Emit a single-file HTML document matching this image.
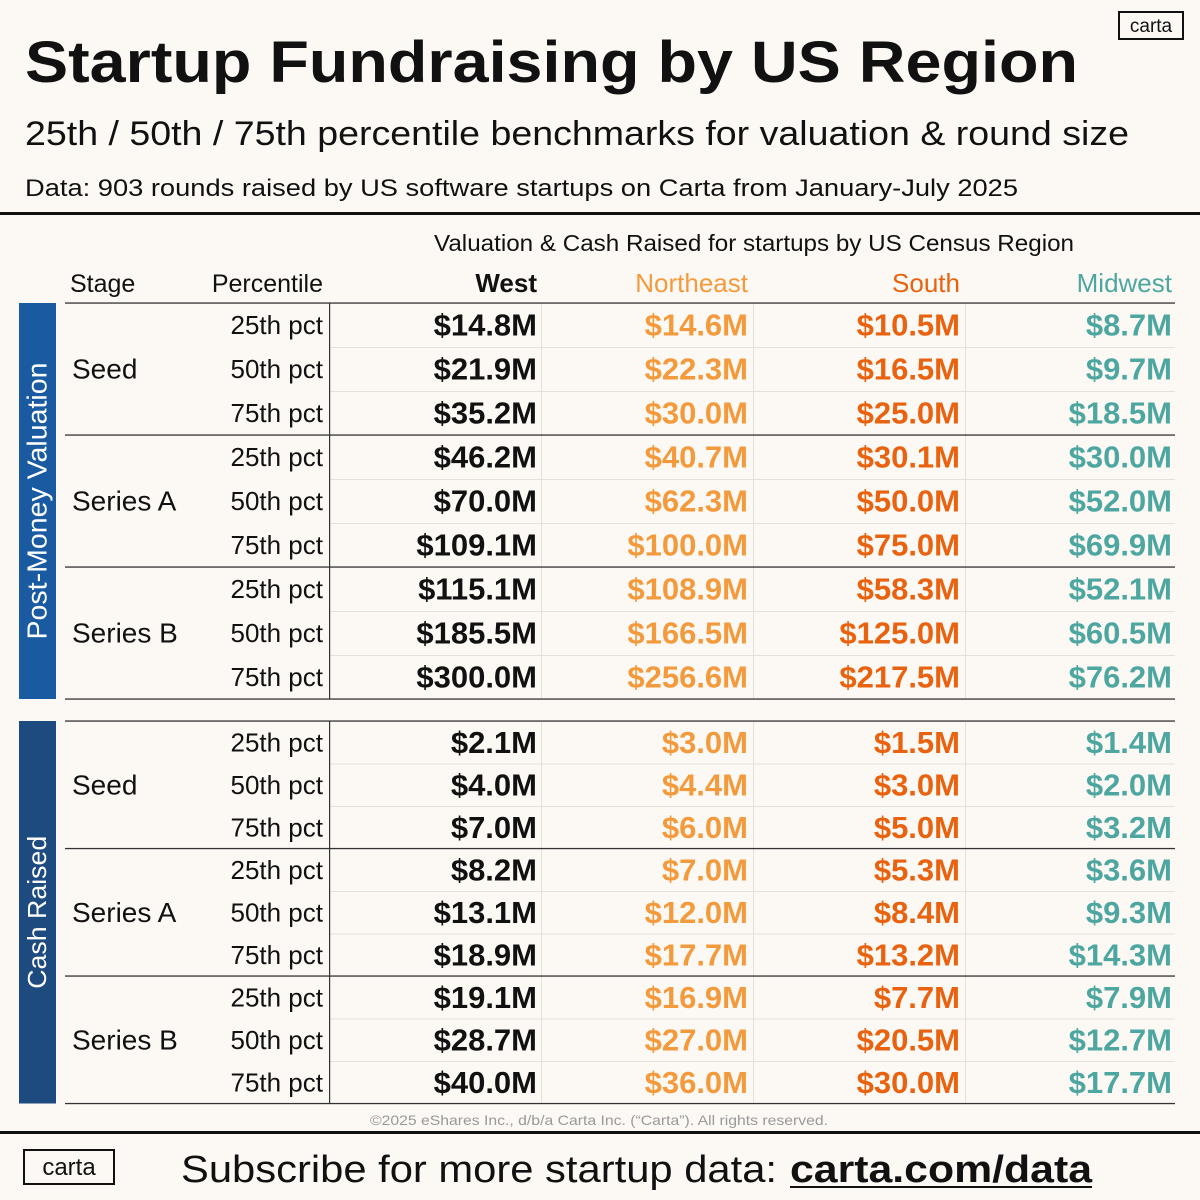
<!DOCTYPE html>
<html><head><meta charset="utf-8">
<style>
html,body{margin:0;padding:0;background:#fcf9f5;}
svg{display:block;font-family:"Liberation Sans",sans-serif;}
</style></head>
<body>
<svg id="chart" width="1200" height="1200" viewBox="0 0 1200 1200" xmlns="http://www.w3.org/2000/svg">
<rect x="0" y="0" width="1200" height="1200" fill="#fcf9f5"/>
<text x="25" y="82" font-size="58" font-weight="bold" fill="#111" textLength="1053" lengthAdjust="spacingAndGlyphs">Startup Fundraising by US Region</text>
<text x="25" y="145" font-size="34" fill="#111" textLength="1104" lengthAdjust="spacingAndGlyphs">25th / 50th / 75th percentile benchmarks for valuation &amp; round size</text>
<text x="25" y="196" font-size="24" fill="#111" textLength="993" lengthAdjust="spacingAndGlyphs">Data: 903 rounds raised by US software startups on Carta from January-July 2025</text>
<g>
<rect x="1119" y="12" width="64" height="27" fill="none" stroke="#111" stroke-width="2"/>
<text x="1151" y="32" font-size="19" text-anchor="middle" fill="#111">carta</text>
</g>
<rect x="0" y="212" width="1200" height="3" fill="#111"/>
<text x="434" y="251" font-size="23" fill="#111" textLength="640" lengthAdjust="spacingAndGlyphs">Valuation &amp; Cash Raised for startups by US Census Region</text>
<text x="70" y="292" font-size="25" fill="#111">Stage</text>
<text x="323" y="292" font-size="25" fill="#111" text-anchor="end">Percentile</text>
<g id="table"></g>
<text x="370" y="1125" font-size="14" fill="#999" textLength="458" lengthAdjust="spacingAndGlyphs">©2025 eShares Inc., d/b/a Carta Inc. (“Carta”). All rights reserved.</text>
<rect x="0" y="1131" width="1200" height="3" fill="#111"/>
<g>
<rect x="24" y="1150" width="90" height="34" fill="none" stroke="#111" stroke-width="2"/>
<text x="69" y="1175" font-size="24" text-anchor="middle" fill="#111">carta</text>
</g>
<text x="181" y="1182" font-size="38" fill="#111" textLength="596" lengthAdjust="spacingAndGlyphs">Subscribe for more startup data:</text>
<text x="790" y="1182" font-size="38" font-weight="bold" fill="#111" textLength="302" lengthAdjust="spacingAndGlyphs">carta.com/data</text>
<rect x="790" y="1186" width="302" height="2" fill="#111"/>
</svg>
<script>
const regions = ["West","Northeast","South","Midwest"];
const stages = ["Seed","Series A","Series B"];
const percentiles = ["25th pct","50th pct","75th pct"];
const valWest = ["$14.8M","$21.9M","$35.2M","$46.2M","$70.0M","$109.1M","$115.1M","$185.5M","$300.0M"];
const valNortheast = ["$14.6M","$22.3M","$30.0M","$40.7M","$62.3M","$100.0M","$108.9M","$166.5M","$256.6M"];
const valSouth = ["$10.5M","$16.5M","$25.0M","$30.1M","$50.0M","$75.0M","$58.3M","$125.0M","$217.5M"];
const valMidwest = ["$8.7M","$9.7M","$18.5M","$30.0M","$52.0M","$69.9M","$52.1M","$60.5M","$76.2M"];
const cashWest = ["$2.1M","$4.0M","$7.0M","$8.2M","$13.1M","$18.9M","$19.1M","$28.7M","$40.0M"];
const cashNortheast = ["$3.0M","$4.4M","$6.0M","$7.0M","$12.0M","$17.7M","$16.9M","$27.0M","$36.0M"];
const cashSouth = ["$1.5M","$3.0M","$5.0M","$5.3M","$8.4M","$13.2M","$7.7M","$20.5M","$30.0M"];
const cashMidwest = ["$1.4M","$2.0M","$3.2M","$3.6M","$9.3M","$14.3M","$7.9M","$12.7M","$17.7M"];

const NS="http://www.w3.org/2000/svg";
const g=document.getElementById('table');
const colors=["#111111","#f39a3d","#e8620f","#4ea6a0"];
const colRight=[537,748,960,1172];
const colSep=[541,753,965];
function mk(tag,attrs,txt){const e=document.createElementNS(NS,tag);for(const k in attrs)e.setAttribute(k,attrs[k]);if(txt!==undefined)e.textContent=txt;g.appendChild(e);return e;}

regions.forEach((r,i)=>{
  const t=mk('text',{x:colRight[i],y:292,'font-size':26,'font-weight':i===0?'bold':'normal','text-anchor':'end',fill:colors[i]},r);
  
  
});

function section(top,rowH,label,barColor,cols,key,labSize,labLen){
  const n=stages.length*percentiles.length;
  const bottom=top+n*rowH;
  const bar=mk('rect',{x:19,y:top,width:37,height:bottom-top,fill:barColor});
  
  
  const cy=(top+bottom)/2;
  const lab=mk('text',{x:37,y:cy,'font-size':labSize,fill:'#fff','text-anchor':'middle','dominant-baseline':'central',textLength:labLen,lengthAdjust:'spacingAndGlyphs',transform:'rotate(-90 37 '+cy+')'},label);
  
  
  for(let k=1;k<n;k++){
    if(k%3===0)continue;
    const ln=mk('rect',{x:329,y:top+k*rowH,width:846,height:1,fill:'#e4e0da'});
    
    
  }
  colSep.forEach(x=>{
    const ln=mk('rect',{x:x,y:top,width:1,height:bottom-top,fill:'#e4e0da'});
    
    
  });
  const vl=mk('rect',{x:329,y:top,width:1.2,height:bottom-top,fill:'#333'});
  
  
  for(let s=0;s<=stages.length;s++){
    const ln=mk('rect',{x:65,y:top+s*3*rowH-0.6,width:1110,height:1.3,fill:'#333'});
    
    
  }
  stages.forEach((st,s)=>{
    const t=mk('text',{x:72,y:top+(s*3+1.5)*rowH,'font-size':28,fill:'#111','dominant-baseline':'central'},st);
    
    
    percentiles.forEach((p,pi)=>{
      const ry=top+(s*3+pi+0.5)*rowH;
      const pt=mk('text',{x:323,y:ry,'font-size':26,fill:'#111','text-anchor':'end','dominant-baseline':'central'},p);
      
      
      cols.forEach((arr,ci)=>{
        const v=mk('text',{x:colRight[ci],y:ry,'font-size':31,'font-weight':'bold',fill:colors[ci],'text-anchor':'end','dominant-baseline':'central'},arr[s*3+pi]);
        
        
      });
    });
  });
}
section(303,44,'Post-Money Valuation','#1a5aa0',[valWest,valNortheast,valSouth,valMidwest],'valuation',28,277);
section(721,42.5,'Cash Raised','#1d4a7f',[cashWest,cashNortheast,cashSouth,cashMidwest],'cash',26,153);
</script>
</body></html>
